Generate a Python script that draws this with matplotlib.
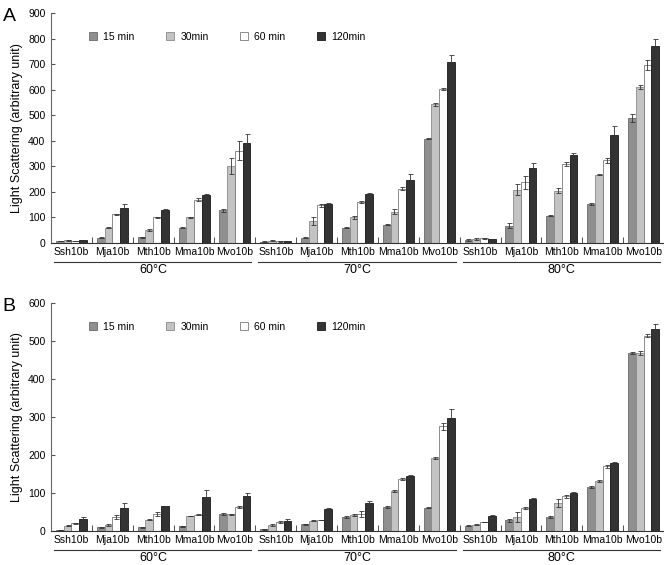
import matplotlib.pyplot as plt
import matplotlib.transforms as mtransforms
from matplotlib.ticker import FixedLocator
import numpy as np

plt.rcParams['font.family'] = ['Liberation Sans', 'DejaVu Sans']

proteins = ["Ssh10b", "Mja10b", "Mth10b", "Mma10b", "Mvo10b"]
temps = ["60°C", "70°C", "80°C"]
times = ["15 min", "30min", "60 min", "120min"]

# panel A values, one list per time point, 15 groups (60, 70, 80 °C x 5 proteins)
a_15 = [8, 21, 22, 60, 128, 5, 21, 60, 72, 408, 10, 68, 107, 152, 488]
a_30 = [10, 60, 52, 100, 301, 8, 85, 100, 123, 542, 15, 209, 205, 267, 610]
a_60 = [8, 113, 100, 170, 361, 6, 147, 160, 213, 602, 18, 238, 310, 323, 696]
a_120 = [11, 136, 130, 187, 393, 7, 153, 190, 245, 709, 15, 292, 343, 421, 772]
a_15_err = [1, 2, 2, 3, 6, 1, 1, 2, 1, 1, 4, 10, 3, 4, 15]
a_30_err = [1, 3, 4, 3, 30, 2, 15, 7, 8, 5, 3, 20, 10, 2, 8]
a_60_err = [1, 2, 3, 6, 38, 1, 6, 4, 6, 5, 3, 25, 8, 10, 20]
a_120_err = [1, 15, 4, 4, 35, 1, 2, 5, 25, 25, 2, 22, 8, 35, 25]

# panel B values
b_15 = [3, 10, 10, 13, 45, 5, 18, 37, 64, 62, 14, 28, 38, 115, 469]
b_30 = [14, 16, 30, 40, 44, 16, 27, 42, 105, 192, 17, 37, 74, 132, 469]
b_60 = [20, 37, 44, 43, 63, 24, 29, 44, 137, 275, 24, 61, 91, 170, 513]
b_120 = [33, 62, 65, 90, 93, 27, 58, 75, 145, 296, 40, 85, 101, 179, 530]
b_15_err = [1, 2, 1, 1, 2, 1, 1, 2, 2, 2, 1, 3, 3, 3, 3]
b_30_err = [1, 3, 2, 1, 1, 3, 1, 3, 2, 3, 2, 12, 10, 3, 5]
b_60_err = [2, 5, 5, 1, 3, 3, 1, 8, 2, 8, 1, 3, 3, 4, 4]
b_120_err = [4, 12, 2, 18, 7, 4, 4, 3, 2, 25, 3, 3, 3, 3, 15]

fills = ["#8f8f8f", "#c3c3c3", "#ffffff", "#333333"]
edges = ["#6a6a6a", "#8a8a8a", "#7a7a7a", "#1a1a1a"]

fig = plt.figure(figsize=(6.64, 5.65), dpi=100)
axA = fig.add_axes([0.0768, 0.570, 0.9232, 0.407])
axB = fig.add_axes([0.0768, 0.0600, 0.9232, 0.404])


def draw(ax, series, errs, ymax, letter):
    n = len(series[0])
    x = np.arange(n)
    w = 0.19
    off = 0.12
    handles = []
    for j in range(4):
        xs = x + off + w * j + w / 2
        h = ax.bar(xs, series[j], w, color=fills[j], edgecolor=edges[j], linewidth=0.6)
        ax.errorbar(xs, series[j], yerr=errs[j], fmt="none", ecolor="#333333",
                    elinewidth=0.6, capsize=1.8, capthick=0.6)
        handles.append(h)
    ax.set_xlim(0, n)
    ax.set_ylim(0, ymax)
    ax.set_yticks(np.arange(0, ymax + 1, 100))
    ax.tick_params(axis="y", direction="in", length=3, labelsize=7.5, pad=4, color="#555555")
    ax.set_xticks(x + 0.5)
    ax.set_xticklabels(proteins * 3)
    ax.tick_params(axis="x", length=0, labelsize=7.5, pad=3)
    ax.xaxis.set_minor_locator(FixedLocator(np.arange(1, n)))
    ax.tick_params(axis="x", which="minor", direction="in", length=4, color="#333333")
    for s in ["top", "right"]:
        ax.spines[s].set_visible(False)
    ax.spines["left"].set_color("#666666")
    ax.spines["bottom"].set_color("#333333")
    ax.spines["left"].set_linewidth(0.8)
    ax.spines["bottom"].set_linewidth(0.8)
    ax.set_ylabel("Light Scattering (arbitrary unit)", fontsize=9, labelpad=4)

    trans = mtransforms.blended_transform_factory(ax.transData, ax.transAxes)
    for k, t in enumerate(temps):
        ax.plot([k * 5 + 0.07, k * 5 + 4.9], [-0.083, -0.083], color="#333333",
                lw=0.8, transform=trans, clip_on=False)
        ax.text(k * 5 + 2.5, -0.118, t, transform=trans, ha="center", va="center",
                fontsize=9)

    ax.legend(handles, times, loc="upper left", bbox_to_anchor=(0.046, 0.958),
              ncol=4, frameon=False, fontsize=7.5, handlelength=0.8, handleheight=0.8,
              handletextpad=0.6, columnspacing=3.0)
    fig.text(0.004, ax.get_position().y1 + 0.008, letter, fontsize=14, va="top", ha="left")


draw(axA, [a_15, a_30, a_60, a_120], [a_15_err, a_30_err, a_60_err, a_120_err], 900, "A")
draw(axB, [b_15, b_30, b_60, b_120], [b_15_err, b_30_err, b_60_err, b_120_err], 600, "B")

fig.savefig("out.png", dpi=100)
